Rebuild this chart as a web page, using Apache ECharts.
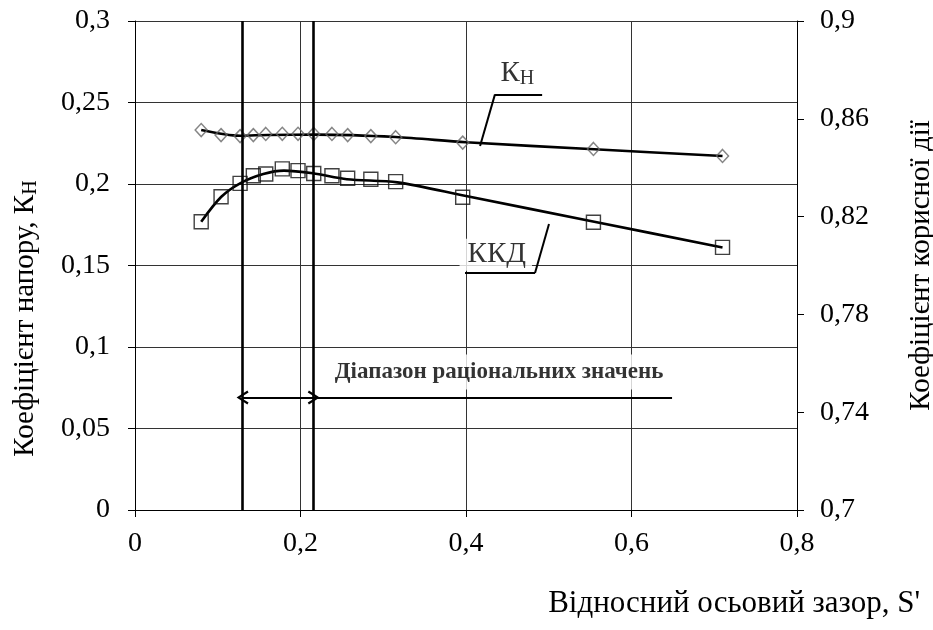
<!DOCTYPE html>
<html>
<head>
<meta charset="utf-8">
<script src="https://cdn.jsdelivr.net/npm/echarts@6/dist/echarts.min.js"></script>
<style>
  html, body { margin: 0; padding: 0; background: #fff; }
  #chart { width: 933px; height: 630px; }
</style>
</head>
<body>
<div id="chart"></div>
<script>
// Relative axial clearance S' (shared by both measured series)
const sValues = [0.08, 0.104, 0.127, 0.143, 0.158, 0.178, 0.197, 0.216, 0.238, 0.257, 0.285, 0.315, 0.396, 0.554, 0.71];
// Head coefficient K_H (left axis)
const knValues = [0.2331, 0.2300, 0.2294, 0.2300, 0.2307, 0.2308, 0.2308, 0.2307, 0.2307, 0.2300, 0.2294, 0.2287, 0.2254, 0.2215, 0.2172];
// Efficiency (right axis)
const kkdValues = [0.8179, 0.8281, 0.8336, 0.8367, 0.8374, 0.8395, 0.8388, 0.8376, 0.8367, 0.8357, 0.8353, 0.8343, 0.8279, 0.8177, 0.8074];

// Averaged trend curves drawn through the measurements
const knTrendS = [0.08, 0.127, 0.16, 0.22, 0.315, 0.4, 0.555, 0.71];
const knTrend = [0.2331, 0.2296, 0.2301, 0.2303, 0.2288, 0.2256, 0.2213, 0.2172];
const kkdTrendS = [0.08, 0.104, 0.127, 0.155, 0.18, 0.215, 0.256, 0.317, 0.4, 0.555, 0.71];
const kkdTrend = [0.8179, 0.8280, 0.8336, 0.8374, 0.8388, 0.8377, 0.8353, 0.8340, 0.8284, 0.8179, 0.8074];

// Axis ticks
const xTicks = [0, 0.2, 0.4, 0.6, 0.8];
const leftTicks = [0, 0.05, 0.1, 0.15, 0.2, 0.25, 0.3];
const rightTicks = [0.7, 0.74, 0.78, 0.82, 0.86, 0.9];

// Rational clearance range and its annotation
const rangeBounds = [0.13, 0.216];
const rangeArrowY = 0.069;
const rangeLineEnd = 0.649;
const rangeText = 'Діапазон раціональних значень';
const rangeTextAt = [0.44, 0.0847];

// Curve captions and their leader lines (left-axis coordinates)
const knCaptionAt = [0.462, 0.268];
const knLeader = [[0.492, 0.2550], [0.435, 0.2550], [0.417, 0.2233]];
const kkdCaptionAt = [0.436, 0.1566];
const kkdLeader = [[0.3988, 0.1454], [0.4834, 0.1454], [0.5003, 0.1755]];

const FONT = '"Liberation Serif", "DejaVu Serif", serif';
const fmt = v => String(+(+v).toFixed(3)).replace('.', ',');
const pairs = (xs, ys) => xs.map((x, i) => [x, ys[i]]);

// open chevron used for both ends of the range arrow
const chevron = 'path://M5,0 L10,9 L8.6,10 L5,3.2 L1.4,10 L0,9 Z';

const chart = echarts.init(document.getElementById('chart'), null, { renderer: 'canvas' });

const blackLine = (w) => ({ color: '#000', width: w, type: 'solid' });

chart.setOption({
  animation: false,
  backgroundColor: '#fff',
  title: {
    text: "Відносний осьовий зазор, S'",
    right: 8,
    top: 583,
    textStyle: { fontFamily: FONT, fontSize: 31, fontWeight: 'normal', color: '#000' }
  },
  grid: { left: 135, top: 21, right: 136, bottom: 120, containLabel: false, outerBoundsMode: 'none' },
  xAxis: {
    type: 'value',
    min: xTicks[0],
    max: xTicks[xTicks.length - 1],
    interval: 0.2,
    axisLine: { onZero: false, lineStyle: { color: '#000', width: 1 } },
    axisTick: { show: true, inside: false, length: 7, lineStyle: { color: '#000' } },
    axisLabel: { formatter: fmt, margin: 20, color: '#000', fontFamily: FONT, fontSize: 28 },
    splitLine: { show: true, lineStyle: { color: '#333', width: 1 } }
  },
  yAxis: [
    {
      type: 'value',
      min: leftTicks[0],
      max: leftTicks[leftTicks.length - 1],
      interval: 0.05,
      name: '{m|Коефіцієнт напору, К}{s|Н}',
      nameLocation: 'middle',
      nameGap: 94,
      nameTextStyle: {
        padding: [0, 106, 0, 0],
        rich: {
          m: { fontFamily: FONT, fontSize: 29, color: '#000' },
          s: { fontFamily: FONT, fontSize: 20, color: '#000', padding: [11, 0, 0, 0] }
        }
      },
      axisLine: { show: true, lineStyle: { color: '#000', width: 1 } },
      axisTick: { show: true, inside: false, length: 7, lineStyle: { color: '#000' } },
      axisLabel: { formatter: fmt, margin: 25, color: '#000', fontFamily: FONT, fontSize: 28 },
      splitLine: { show: true, lineStyle: { color: '#333', width: 1 } }
    },
    {
      type: 'value',
      position: 'right',
      min: rightTicks[0],
      max: rightTicks[rightTicks.length - 1],
      name: 'Коефіцієнт корисної дії',
      nameLocation: 'middle',
      nameGap: 110,
      nameTextStyle: { fontFamily: FONT, fontSize: 29, color: '#000' },
      axisLine: { show: true, lineStyle: { color: '#000', width: 1 } },
      axisTick: { show: true, inside: false, length: 7, customValues: rightTicks, lineStyle: { color: '#000' } },
      axisLabel: { customValues: rightTicks, formatter: fmt, margin: 23, color: '#000', fontFamily: FONT, fontSize: 28 },
      splitLine: { show: false }
    }
  ],
  series: [
    {
      name: 'Кн',
      type: 'line',
      yAxisIndex: 0,
      data: pairs(knTrendS, knTrend),
      smooth: 0.3,
      showSymbol: false,
      lineStyle: blackLine(2.6),
      z: 3
    },
    {
      name: 'ККД',
      type: 'line',
      yAxisIndex: 1,
      data: pairs(kkdTrendS, kkdTrend),
      smooth: 0.3,
      showSymbol: false,
      lineStyle: blackLine(2.6),
      z: 3
    },
    {
      name: 'Кн (виміри)',
      type: 'scatter',
      yAxisIndex: 0,
      data: pairs(sValues, knValues),
      symbol: 'diamond',
      symbolSize: [12, 13],
      itemStyle: { color: 'rgba(255,255,255,0)', borderColor: '#666', borderWidth: 1.5 },
      z: 4
    },
    {
      name: 'ККД (виміри)',
      type: 'scatter',
      yAxisIndex: 1,
      data: pairs(sValues, kkdValues),
      symbol: 'rect',
      symbolSize: 14,
      itemStyle: { color: 'rgba(255,255,255,0)', borderColor: '#111', borderWidth: 1.4 },
      z: 4
    },
    {
      name: 'annotations',
      type: 'scatter',
      yAxisIndex: 0,
      symbolSize: 0,
      silent: true,
      z: 6,
      data: [
        {
          value: rangeTextAt,
          label: {
            show: true, position: 'inside', formatter: rangeText,
            fontFamily: FONT, fontSize: 23, fontWeight: 'bold', color: '#000',
            backgroundColor: '#fff', padding: [6, 4, 6, 4]
          }
        },
        {
          value: knCaptionAt,
          label: {
            show: true, position: 'inside', formatter: '{m|К}{s|Н}',
            rich: {
              m: { fontFamily: FONT, fontSize: 29, color: '#000' },
              s: { fontFamily: FONT, fontSize: 20, color: '#000', padding: [12, 0, 0, 0] }
            }
          }
        },
        {
          value: kkdCaptionAt,
          label: {
            show: true, position: 'inside', formatter: 'ККД',
            fontFamily: FONT, fontSize: 29, color: '#000',
            backgroundColor: '#fff', padding: [3, 6, 0, 8]
          }
        }
      ],
      markLine: {
        silent: true,
        animation: false,
        symbol: ['none', 'none'],
        label: { show: false },
        emphasis: { disabled: true },
        data: [
          [{ coord: [rangeBounds[0], leftTicks[0]], lineStyle: blackLine(2.6) }, { coord: [rangeBounds[0], leftTicks[leftTicks.length - 1]] }],
          [{ coord: [rangeBounds[1], leftTicks[0]], lineStyle: blackLine(2.6) }, { coord: [rangeBounds[1], leftTicks[leftTicks.length - 1]] }],
          [
            { coord: [rangeBounds[0], rangeArrowY], symbol: chevron, symbolSize: [14, 12], lineStyle: blackLine(2) },
            { coord: [rangeBounds[1], rangeArrowY], symbol: chevron, symbolSize: [14, 12] }
          ],
          [{ coord: [rangeBounds[1], rangeArrowY], lineStyle: blackLine(2) }, { coord: [rangeLineEnd, rangeArrowY] }],
          [{ coord: knLeader[0], lineStyle: blackLine(2) }, { coord: knLeader[1] }],
          [{ coord: knLeader[1], lineStyle: blackLine(2) }, { coord: knLeader[2] }],
          [{ coord: kkdLeader[0], lineStyle: blackLine(2) }, { coord: kkdLeader[1] }],
          [{ coord: kkdLeader[1], lineStyle: blackLine(2) }, { coord: kkdLeader[2] }]
        ]
      }
    }
  ]
});
</script>
</body>
</html>
